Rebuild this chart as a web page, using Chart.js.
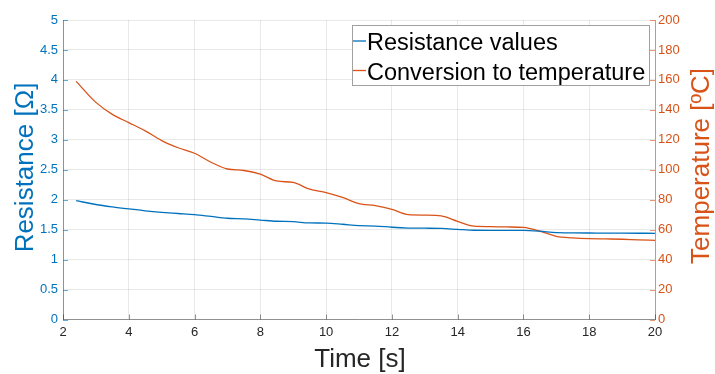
<!DOCTYPE html>
<html>
<head>
<meta charset="utf-8">
<script src="https://cdn.jsdelivr.net/npm/chart.js@4.4.1/dist/chart.umd.min.js"></script>
<style>
body { margin: 0; background: #fff; }
</style>
</head>
<body>
<canvas id="tempchart" width="715" height="374"></canvas>
<script>
// values
const timeS = [2.4, 3.0, 3.5, 4.0, 4.5, 5.0, 5.5, 6.0, 6.5, 7.0, 7.5, 8.0, 8.5, 9.0, 9.5, 10.0,
  10.5, 11.0, 11.5, 12.0, 12.5, 13.0, 13.5, 14.0, 14.5, 15.0, 15.5, 16.0, 16.5, 17.0, 17.5,
  18.0, 18.5, 19.0, 19.5, 20.0];
const resistance = [1.983, 1.92, 1.88, 1.846, 1.815, 1.79, 1.77, 1.75, 1.72, 1.69, 1.68, 1.66,
  1.64, 1.633, 1.612, 1.61, 1.59, 1.566, 1.56, 1.54, 1.527, 1.524, 1.52, 1.505, 1.49, 1.489,
  1.489, 1.489, 1.475, 1.449, 1.446, 1.444, 1.442, 1.441, 1.44, 1.439];
const temperature = [159, 145, 137, 131.5, 126, 119.5, 114.7, 111, 105, 100.5, 99.5, 97,
  92.5, 91.5, 87, 84.8, 81.5, 77.3, 76.1, 73.5, 70, 69.7, 69.2, 65.5, 62.3, 62, 61.8, 61.5,
  59, 55.5, 54.5, 54, 53.8, 53.6, 53.2, 52.9];
const seriesNames = ['Resistance values', 'Conversion to temperature'];
const xTitle = 'Time [s]';
const leftTitle = 'Resistance [Ω]';
const rightTitle = 'Temperature [ºC]';

const blue = 'rgb(0, 114, 189)';
const orange = 'rgb(217, 83, 25)';
const dark = 'rgb(38, 38, 38)';
const fontFam = '"Liberation Sans", Arial, sans-serif';
const gridCol = 'rgba(38, 38, 38, 0.1)';

const ctx = document.getElementById('tempchart');

// MATLAB style ticks pointing into the plot
const innerTicks = {
  id: 'innerTicks',
  afterDatasetsDraw(chart) {
    const c = chart.ctx;
    const a = chart.chartArea;
    const sx = chart.scales.x, sy = chart.scales.y, sy1 = chart.scales.y1;
    c.save();
    c.lineWidth = 1;
    c.strokeStyle = 'rgba(0, 114, 189, 0.6)';
    sy.ticks.forEach(t => {
      const p = Math.round(sy.getPixelForValue(t.value)) + 0.5;
      c.beginPath(); c.moveTo(a.left, p); c.lineTo(a.left + 5, p); c.stroke();
    });
    c.strokeStyle = 'rgba(217, 83, 25, 0.6)';
    sy1.ticks.forEach(t => {
      const p = Math.round(sy1.getPixelForValue(t.value)) + 0.5;
      c.beginPath(); c.moveTo(a.right - 5, p); c.lineTo(a.right, p); c.stroke();
    });
    c.strokeStyle = 'rgba(38, 38, 38, 0.5)';
    sx.ticks.forEach(t => {
      const p = Math.round(sx.getPixelForValue(t.value)) + 0.5;
      c.beginPath(); c.moveTo(p, a.bottom); c.lineTo(p, a.bottom - 5); c.stroke();
    });
    c.restore();
  }
};

const boxLegend = {
  id: 'boxLegend',
  afterDraw(chart) {
    const c = chart.ctx;
    const sets = chart.data.datasets;
    c.save();
    c.fillStyle = '#fff';
    c.fillRect(352, 25, 298, 61);
    c.strokeStyle = 'rgb(160, 160, 160)';
    c.lineWidth = 1;
    c.strokeRect(352.5, 25.5, 297, 60);
    c.font = '23.5px ' + fontFam;
    c.textAlign = 'left';
    c.textBaseline = 'alphabetic';
    sets.forEach((ds, i) => {
      const ly = 41 + i * 29.5;
      c.strokeStyle = ds.borderColor;
      c.lineWidth = 1.3;
      c.beginPath(); c.moveTo(353, ly); c.lineTo(366, ly); c.stroke();
      c.fillStyle = '#000';
      c.fillText(ds.label, 367, ly + 9);
    });
    c.restore();
  }
};

const axisTitles = {
  id: 'axisTitles',
  afterDraw(chart) {
    const c = chart.ctx;
    c.save();
    c.font = '26px ' + fontFam;
    c.textAlign = 'center';
    c.textBaseline = 'alphabetic';
    c.fillStyle = dark;
    c.fillText(xTitle, 360, 366.5);
    c.fillStyle = blue;
    c.translate(33, 167.5);
    c.rotate(-Math.PI / 2);
    c.fillText(leftTitle, 0, 0);
    c.restore();
    c.save();
    c.font = '26px ' + fontFam;
    c.textAlign = 'center';
    c.textBaseline = 'alphabetic';
    c.fillStyle = orange;
    c.translate(709, 166);
    c.rotate(-Math.PI / 2);
    c.fillText(rightTitle, 0, 0);
    c.restore();
  }
};

const plainNum = v => String(Math.round(v * 10) / 10);

new Chart(ctx, {
  type: 'line',
  data: {
    datasets: [{
      label: seriesNames[0],
      data: timeS.map((t, i) => ({ x: t, y: resistance[i] })),
      borderColor: blue,
      borderWidth: 1.3,
      pointRadius: 0,
      cubicInterpolationMode: 'monotone',
      yAxisID: 'y'
    }, {
      label: seriesNames[1],
      data: timeS.map((t, i) => ({ x: t, y: temperature[i] })),
      borderColor: orange,
      borderWidth: 1.3,
      pointRadius: 0,
      cubicInterpolationMode: 'monotone',
      yAxisID: 'y1'
    }]
  },
  options: {
    responsive: false,
    animation: false,
    layout: { padding: { top: 20, left: 0, right: 0, bottom: 0 } },
    plugins: { legend: { display: false }, tooltip: { enabled: false } },
    scales: {
      x: {
        type: 'linear',
        min: 2, max: 20,
        afterFit: s => { s.height = 54.5; },
        ticks: { stepSize: 2, color: dark, padding: 5, maxRotation: 0, callback: plainNum,
          font: { family: fontFam, size: 13 } },
        grid: { color: gridCol, drawTicks: false },
        border: { color: 'rgba(38, 38, 38, 0.45)', width: 1 }
      },
      y: {
        position: 'left',
        min: 0, max: 5,
        afterFit: s => { s.width = 63; },
        ticks: { stepSize: 0.5, color: blue, padding: 5, callback: plainNum,
          font: { family: fontFam, size: 13 } },
        grid: { color: gridCol, drawTicks: false },
        border: { color: 'rgba(0, 114, 189, 0.6)', width: 1 }
      },
      y1: {
        position: 'right',
        min: 0, max: 200,
        afterFit: s => { s.width = 60; },
        ticks: { stepSize: 20, color: orange, padding: 3, callback: plainNum,
          font: { family: fontFam, size: 13 } },
        grid: { display: false, drawTicks: false },
        border: { color: 'rgba(217, 83, 25, 0.6)', width: 1 }
      }
    }
  },
  plugins: [innerTicks, boxLegend, axisTitles]
});
</script>
</body>
</html>
